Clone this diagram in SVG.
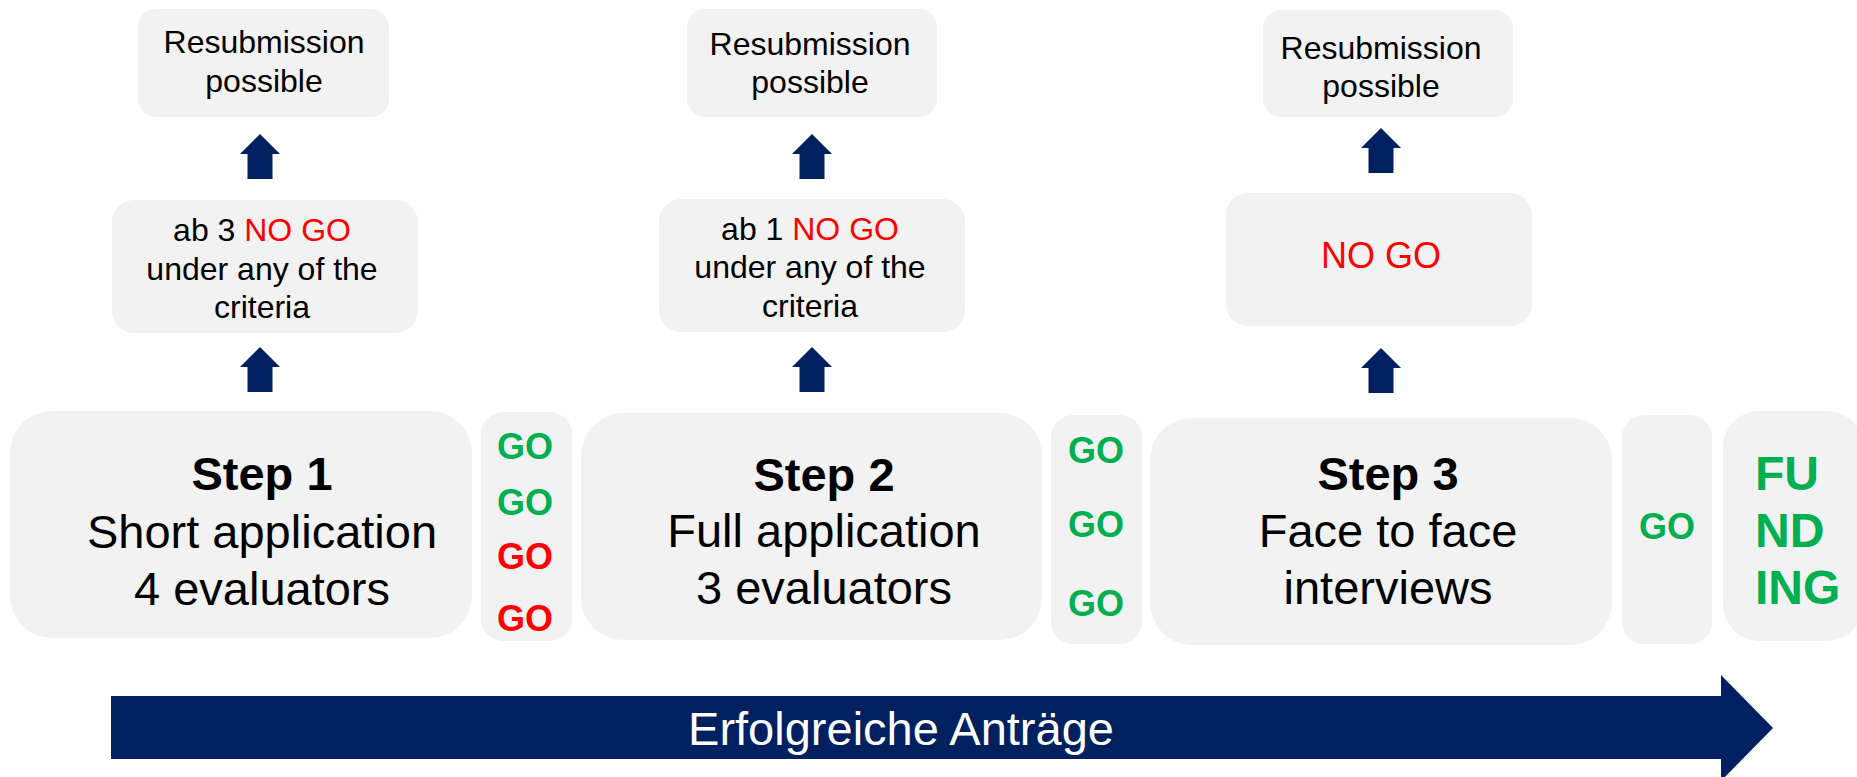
<svg xmlns="http://www.w3.org/2000/svg" width="1857" height="777" viewBox="0 0 1857 777">
<style>
.box{fill:#F2F2F2}
.t{font-family:"Liberation Sans",Arial,sans-serif;fill:#000;text-anchor:middle}
.s{font-size:32px}
.big{font-size:47px}
.b{font-weight:bold}
.red{fill:#FF0000}
.grn{fill:#00B050;font-weight:bold}
.arr{fill:#002060}
</style>
<defs>
<path id="up" d="M-20,20 L0,0 L20,20 L12.5,20 L12.5,45 L-12.5,45 L-12.5,20 Z"/>
</defs>
<rect width="1857" height="777" fill="#FFFFFF"/>

<g id="connectors">
<use href="#up" class="arr" x="260" y="134"/>
<use href="#up" class="arr" x="260" y="347"/>
<use href="#up" class="arr" x="812" y="134"/>
<use href="#up" class="arr" x="812" y="347"/>
<use href="#up" class="arr" x="1381" y="128"/>
<use href="#up" class="arr" x="1381" y="348"/>
</g>

<g id="resub1">
<rect class="box" x="138" y="9" width="251" height="108" rx="18"/>
<text class="t s" x="264" y="53">Resubmission</text>
<text class="t s" x="264" y="92">possible</text>
</g>
<g id="resub2">
<rect class="box" x="687" y="9" width="250" height="108" rx="18"/>
<text class="t s" x="810" y="55">Resubmission</text>
<text class="t s" x="810" y="93">possible</text>
</g>
<g id="resub3">
<rect class="box" x="1263" y="10" width="250" height="107" rx="18"/>
<text class="t s" x="1381" y="59">Resubmission</text>
<text class="t s" x="1381" y="97">possible</text>
</g>

<g id="nogo1">
<rect class="box" x="112" y="200" width="306" height="133" rx="22"/>
<text class="t s" x="262" y="241">ab 3 <tspan class="red">NO GO</tspan></text>
<text class="t s" x="262" y="280">under any of the</text>
<text class="t s" x="262" y="318">criteria</text>
</g>
<g id="nogo2">
<rect class="box" x="659" y="199" width="306" height="133" rx="22"/>
<text class="t s" x="810" y="240">ab 1 <tspan class="red">NO GO</tspan></text>
<text class="t s" x="810" y="278">under any of the</text>
<text class="t s" x="810" y="317">criteria</text>
</g>
<g id="nogo3">
<rect class="box" x="1226" y="193" width="306" height="133" rx="22"/>
<text class="t red" x="1381" y="268" style="font-size:36px">NO GO</text>
</g>

<g id="step1">
<rect class="box" x="10" y="411" width="462" height="227" rx="42"/>
<text class="t big b" x="262" y="490">Step 1</text>
<text class="t big" x="262" y="548">Short application</text>
<text class="t big" x="262" y="605">4 evaluators</text>
</g>
<g id="go1">
<rect class="box" x="481" y="412" width="91" height="229" rx="22"/>
<text class="t grn" x="525" y="459" style="font-size:36px">GO</text>
<text class="t grn" x="525" y="515" style="font-size:36px">GO</text>
<text class="t red b" x="525" y="569" style="font-size:36px">GO</text>
<text class="t red b" x="525" y="631" style="font-size:36px">GO</text>
</g>

<g id="step2">
<rect class="box" x="581" y="413" width="461" height="227" rx="42"/>
<text class="t big b" x="824" y="491">Step 2</text>
<text class="t big" x="824" y="547">Full application</text>
<text class="t big" x="824" y="604">3 evaluators</text>
</g>
<g id="go2">
<rect class="box" x="1051" y="415" width="91" height="229" rx="22"/>
<text class="t grn" x="1096" y="463" style="font-size:36px">GO</text>
<text class="t grn" x="1096" y="537" style="font-size:36px">GO</text>
<text class="t grn" x="1096" y="616" style="font-size:36px">GO</text>
</g>

<g id="step3">
<rect class="box" x="1150" y="418" width="462" height="227" rx="42"/>
<text class="t big b" x="1388" y="490">Step 3</text>
<text class="t big" x="1388" y="547">Face to face</text>
<text class="t big" x="1388" y="604">interviews</text>
</g>
<g id="go3">
<rect class="box" x="1622" y="415" width="90" height="229" rx="22"/>
<text class="t grn" x="1667" y="539" style="font-size:36px">GO</text>
</g>

<g id="funding">
<rect class="box" x="1723" y="411" width="140" height="230" rx="36"/>
<text class="t grn" x="1755" y="490" style="font-size:48px;text-anchor:start">FU</text>
<text class="t grn" x="1755" y="547" style="font-size:48px;text-anchor:start">ND</text>
<text class="t grn" x="1755" y="604" style="font-size:48px;text-anchor:start">ING</text>
</g>

<g id="timeline">
<path class="arr" d="M111,696 L1721,696 L1721,675 L1773,728 L1721,781 L1721,759 L111,759 Z"/>
<text class="t big" x="901" y="745" style="fill:#FFFFFF">Erfolgreiche Anträge</text>
</g>
</svg>
